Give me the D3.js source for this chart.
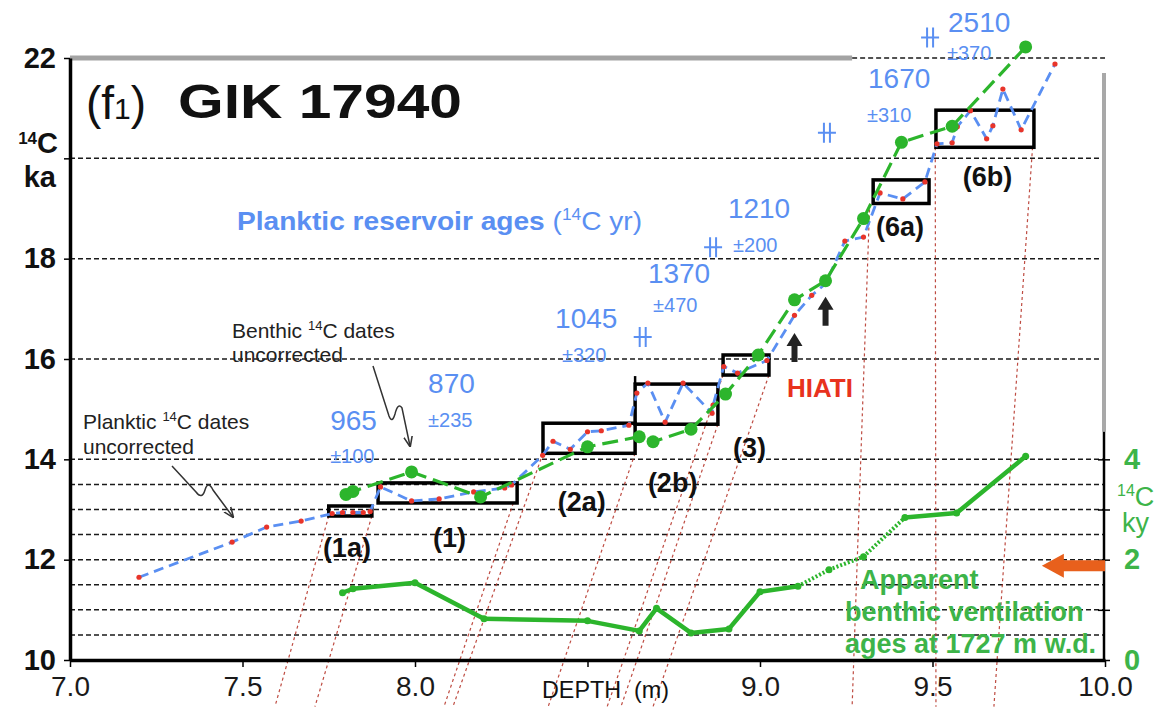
<!DOCTYPE html>
<html><head><meta charset="utf-8">
<script src="https://cdn.jsdelivr.net/npm/d3@7"></script>
<style>
body{margin:0;background:#fff}
svg{display:block}
text{font-family:"Liberation Sans",Arial,Helvetica,sans-serif}
</style>
</head><body>
<svg id="c" width="1160" height="707"></svg>
<script>
// ---------------- DATA ----------------
// Planktic 14C dates (uncorrected): depth (m), age (14C ka)
const plankticDepth = [7.20,7.47,7.57,7.67,7.76,7.79,7.82,7.85,7.87,
  7.90,7.99,8.07,8.17,8.26,8.28,
  8.37,8.40,8.45,8.50,8.54,8.62,
  8.643,8.675,8.725,8.777,8.861,8.864,
  8.895,8.935,9.02,
  9.10,9.15,9.19,9.246,9.30,
  9.348,9.414,9.478,
  9.513,9.557,9.572,9.61,9.657,9.675,9.704,9.757,9.855];
const plankticAge = [11.65,12.35,12.65,12.77,12.92,12.94,12.94,12.94,12.96,
  13.45,13.17,13.21,13.35,13.43,13.49,
  14.08,14.36,14.20,14.55,14.57,14.68,
  15.32,15.52,14.74,15.52,14.92,15.08,
  15.85,15.72,15.97,
  16.87,17.27,17.50,18.35,18.43,
  19.31,19.19,19.53,
  20.29,20.31,20.63,20.95,20.39,20.65,21.38,20.57,21.88];

// Benthic 14C dates (uncorrected)
const benthicDepth = [7.80,7.82,7.99,8.19,8.50,8.65,8.69,8.80,8.90,8.995,9.10,9.19,9.30,9.41,9.557,9.77];
const benthicAge   = [13.30,13.36,13.75,13.25,14.25,14.45,14.35,14.60,15.30,16.08,17.18,17.56,18.80,20.32,20.64,22.22];

// Apparent benthic ventilation ages (14C ky)
const ventDepth = [7.79,7.82,8.00,8.20,8.50,8.65,8.70,8.80,8.91,9.00,9.11,9.20,9.30,9.42,9.57,9.77];
const ventAge   = [1.34,1.42,1.54,0.82,0.78,0.58,1.03,0.54,0.62,1.36,1.47,1.80,2.06,2.84,2.93,4.06];
const ventDotted = [false,false,false,false,false,false,false,false,false,false,true,true,true,false,false]; // segment i -> i+1

// Planktic reservoir ages (14C yr)
const resAge   = ["965","870","1045","1370","1210","1670","2510"];
const resErr   = ["±100","±235","±320","±470","±200","±310","±370"];
const resMarkDepth = [8.66,8.864,9.194,9.493];
const resMarkAge   = [16.44,18.23,20.51,22.41];

// Boxes (tie-point intervals)
const boxLabels = ["(1a)","(1)","(2a)","(2b)","(3)","(6a)","(6b)"];
const boxDepth  = [[7.75,7.875],[7.893,8.296],[8.371,8.638],[8.638,8.878],[8.893,9.026],[9.328,9.49],[9.51,9.794]];
const boxAge    = [[12.87,13.07],[13.13,13.53],[14.12,14.72],[14.70,15.50],[15.68,16.08],[19.10,19.57],[20.22,20.96]];

// Correlation lines (depth at box corner, age) -> depth at lower edge
const corrTopDepth = [7.75,7.875,8.285,8.371,8.638,8.878,8.893,9.026,9.318,9.508,9.790];
const corrTopAge   = [12.87,12.87,13.13,14.12,14.12,14.70,15.68,15.68,19.10,20.22,20.22];
const corrBotDepth = [7.594,7.710,8.084,8.110,8.386,8.597,8.557,8.690,9.267,9.510,9.678];

// Hiatus arrows
const hiatusDepth = [9.10,9.19];
const hiatusAge   = [16.52,17.24];

// Axis ticks
const xTicks = [7,7.5,8,8.5,9,9.5,10];
const yTicks = [10,12,14,16,18,20,22];
const yRTicks = [0,1,2,3,4];
const gridAges = [10.5,11,11.5,12,12.5,13,13.5,14,16,18,20,22];

// ---------------- CHART ----------------
const svg = d3.select("#c");
const x = d3.scaleLinear().domain([7,10]).range([70,1105]);
const y = d3.scaleLinear().domain([10,22]).range([660,58]);
const yR = d3.scaleLinear().domain([0,4]).range([y(10), y(14)]);

const BLUE = "#5a8ff2", RED = "#e8342a", GREEN = "#2cb52c", TGREEN = "#3db449", DRED = "#b8392e";

// gridlines
svg.append("g").selectAll("line").data(gridAges).join("line")
  .attr("x1", d => d === 22 ? x(9.267) : x(7)).attr("x2", x(10))
  .attr("y1", d => y(d)).attr("y2", d => y(d))
  .attr("stroke", "#1a1a1a").attr("stroke-width", 1.5).attr("stroke-dasharray", "5,3");

// top gray frame & right gray frame
svg.append("line").attr("x1", x(7)).attr("x2", x(9.267)).attr("y1", y(22)).attr("y2", y(22))
  .attr("stroke", "#a3a3a3").attr("stroke-width", 5);
svg.append("line").attr("x1", x(10)-1).attr("x2", x(10)-1).attr("y1", y(21.7)).attr("y2", y(14.55))
  .attr("stroke", "#a8a8a8").attr("stroke-width", 4);

// correlation lines
svg.append("g").selectAll("line").data(corrTopDepth).join("line")
  .attr("x1", (d) => x(d)).attr("y1", (d,i) => y(corrTopAge[i]))
  .attr("x2", (d,i) => x(corrBotDepth[i])).attr("y2", y(9.07))
  .attr("stroke", DRED).attr("stroke-width", 1.2).attr("stroke-dasharray", "3,3").attr("opacity", 0.9);

// boxes
svg.append("g").selectAll("rect").data(boxDepth).join("rect")
  .attr("x", d => x(d[0])).attr("width", d => x(d[1]) - x(d[0]))
  .attr("y", (d,i) => y(boxAge[i][1])).attr("height", (d,i) => y(boxAge[i][0]) - y(boxAge[i][1]))
  .attr("fill", "none").attr("stroke", "#000").attr("stroke-width", 3.5);
// small tick above (2b)
svg.append("line").attr("x1", x(boxDepth[3][0])).attr("x2", x(boxDepth[3][0]))
  .attr("y1", y(boxAge[3][1])).attr("y2", y(boxAge[3][1]) - 8).attr("stroke", "#000").attr("stroke-width", 2.5);

// axes
const fmt1 = d3.format(".1f");
const gx = svg.append("g").attr("transform", `translate(0,${y(10)})`)
  .call(d3.axisBottom(x).tickValues(xTicks).tickFormat(d => d === 8.5 ? "" : fmt1(d)).tickSize(7).tickSizeOuter(0).tickPadding(9));
gx.select(".domain").attr("stroke", "#000").attr("stroke-width", 3.5);
gx.selectAll(".tick line").attr("stroke-width", 1.5);
gx.selectAll(".tick text").attr("font-size", 28).attr("fill", "#1a1a1a").attr("font-family", "Liberation Sans, Arial");

const gy = svg.append("g").attr("transform", `translate(${x(7)},0)`)
  .call(d3.axisLeft(y).tickValues(yTicks).tickFormat(d => d === 20 ? "" : d).tickSize(6).tickSizeOuter(0).tickPadding(8));
gy.select(".domain").attr("stroke", "#000").attr("stroke-width", 3.5);
gy.selectAll(".tick line").attr("stroke-width", 1.5);
gy.selectAll(".tick text").attr("font-size", 29).attr("font-weight", "bold").attr("fill", "#111").attr("font-family", "Liberation Sans, Arial");

const gyr = svg.append("g").attr("transform", `translate(${x(10)-1},0)`)
  .call(d3.axisRight(yR).tickValues(yRTicks).tickFormat(d => d % 2 === 0 ? d : "").tickSize(6).tickSizeOuter(0).tickPadding(14));
gyr.select(".domain").attr("d", `M0,${yR(4.55)}V${yR(0)}`).attr("stroke", "#000").attr("stroke-width", 2.5);
gyr.selectAll(".tick line").attr("x1", -6).attr("stroke-width", 1.5);
gyr.selectAll(".tick text").attr("font-size", 29).attr("font-weight", "bold").attr("fill", TGREEN).attr("font-family", "Liberation Sans, Arial");

// axis labels
svg.append("text").attr("x", 542).attr("y", 698).attr("font-size", 24).attr("fill", "#111")
  .attr("textLength", 127).attr("lengthAdjust", "spacingAndGlyphs").text("DEPTH\u00a0\u00a0(m)");
const lk = svg.append("text").attr("x", 58).attr("y", 153).attr("font-size", 29).attr("font-weight", "bold").attr("text-anchor", "end").attr("fill", "#111");
lk.append("tspan").attr("font-size", 17).attr("dy", -9).text("14");
lk.append("tspan").attr("dy", 9).text("C");
svg.append("text").attr("x", 56).attr("y", 187).attr("font-size", 29).attr("font-weight", "bold").attr("text-anchor", "end").attr("fill", "#111").text("ka");
const rk = svg.append("text").attr("x", 1117).attr("y", 506).attr("font-size", 27).attr("fill", TGREEN);
rk.append("tspan").attr("font-size", 16).attr("dy", -10).text("14");
rk.append("tspan").attr("dy", 10).text("C");
svg.append("text").attr("x", 1122).attr("y", 532).attr("font-size", 27).attr("fill", TGREEN).text("ky");

// title
const tt = svg.append("text").attr("x", 86).attr("y", 119).attr("font-size", 46).attr("fill", "#111");
tt.append("tspan").text("(f");
tt.append("tspan").attr("font-size", 30).text("1");
tt.append("tspan").text(")");
svg.append("text").attr("x", 178).attr("y", 118).attr("font-size", 49).attr("font-weight", "bold").attr("fill", "#111")
  .attr("textLength", 284).attr("lengthAdjust", "spacingAndGlyphs").text("GIK 17940");

// ventilation ages line
const vpts = ventDepth.map((d,i) => [x(d), yR(ventAge[i])]);
const vg = svg.append("g");
for (let i = 0; i < vpts.length - 1; i++) {
  vg.append("line").attr("x1", vpts[i][0]).attr("y1", vpts[i][1]).attr("x2", vpts[i+1][0]).attr("y2", vpts[i+1][1])
    .attr("stroke", GREEN).attr("stroke-width", ventDotted[i] ? 4 : 4.5).attr("stroke-linecap", ventDotted[i] ? "butt" : "round")
    .attr("stroke-dasharray", ventDotted[i] ? "2,2" : null);
}
vg.selectAll("circle").data(vpts).join("circle").attr("cx", d => d[0]).attr("cy", d => d[1]).attr("r", 3.5).attr("fill", GREEN);

// planktic line
const line = d3.line().x(d => x(d[0])).y(d => y(d[1]));
const ppts = plankticDepth.map((d,i) => [d, plankticAge[i]]);
svg.append("path").attr("d", line(ppts)).attr("fill", "none").attr("stroke", BLUE).attr("stroke-width", 2.8).attr("stroke-dasharray", "10,6");
svg.append("g").selectAll("circle").data(ppts).join("circle")
  .attr("cx", d => x(d[0])).attr("cy", d => y(d[1])).attr("r", 2.6).attr("fill", RED);

// benthic line
const bpts = benthicDepth.map((d,i) => [d, benthicAge[i]]);
svg.append("path").attr("d", line(bpts)).attr("fill", "none").attr("stroke", GREEN).attr("stroke-width", 3.2).attr("stroke-dasharray", "16,7");
svg.append("g").selectAll("circle").data(bpts).join("circle")
  .attr("cx", d => x(d[0])).attr("cy", d => y(d[1])).attr("r", 6.5).attr("fill", GREEN);

// reservoir-age markers
svg.append("g").selectAll("path").data(resMarkDepth).join("path")
  .attr("d", (d,i) => { const cx = x(d), cy = y(resMarkAge[i]);
    return `M${cx-3},${cy-10}V${cy+10}M${cx+3},${cy-10}V${cy+10}M${cx-9},${cy}H${cx+9}`; })
  .attr("stroke", BLUE).attr("stroke-width", 2).attr("fill", "none");

// reservoir-age labels
const resPosAge = [[7.754,14.58],[8.038,15.32],[8.406,16.62],[8.675,17.51],[8.907,18.81],[9.313,21.40],[9.545,22.52]];
const resPosErr = [[7.754,13.93],[8.038,14.64],[8.426,15.94],[8.690,16.94],[8.922,18.13],[9.310,20.72],[9.542,21.96]];
svg.append("g").selectAll("text").data(resAge).join("text")
  .attr("x", (d,i) => x(resPosAge[i][0])).attr("y", (d,i) => y(resPosAge[i][1]))
  .attr("font-size", 28).attr("fill", BLUE).text(d => d);
svg.append("g").selectAll("text").data(resErr).join("text")
  .attr("x", (d,i) => x(resPosErr[i][0])).attr("y", (d,i) => y(resPosErr[i][1]))
  .attr("font-size", 20).attr("fill", BLUE).text(d => d);

// Planktic reservoir ages title
const pr = svg.append("text").attr("x", 237).attr("y", 230).attr("font-size", 26).attr("fill", BLUE)
  .attr("textLength", 405).attr("lengthAdjust", "spacingAndGlyphs");
pr.append("tspan").attr("font-weight", "bold").text("Planktic reservoir ages ");
pr.append("tspan").text("(");
pr.append("tspan").attr("font-size", 16).attr("dy", -10).text("14");
pr.append("tspan").attr("dy", 10).text("C yr)");

// box labels
const boxLabPos = [[7.733,12.05],[8.052,12.25],[8.414,12.97],[8.675,13.35],[8.922,14.05],[9.336,18.45],[9.588,19.45]];
svg.append("g").selectAll("text").data(boxLabels).join("text")
  .attr("x", (d,i) => x(boxLabPos[i][0])).attr("y", (d,i) => y(boxLabPos[i][1]))
  .attr("font-size", 27).attr("font-weight", "bold").attr("fill", "#111").text(d => d);

// HIATI
svg.append("text").attr("x", 787).attr("y", 397).attr("font-size", 26).attr("font-weight", "bold").attr("fill", "#e8321e").text("HIATI");

// hiatus arrows
svg.append("g").selectAll("path").data(hiatusDepth).join("path")
  .attr("d", (d,i) => { const cx = x(d), ty = y(hiatusAge[i]);
    return `M${cx},${ty}L${cx+8},${ty+13}L${cx+3},${ty+13}L${cx+3},${ty+29}L${cx-3},${ty+29}L${cx-3},${ty+13}L${cx-8},${ty+13}Z`; })
  .attr("fill", "#222");

// orange arrow at right axis
{
  const ty = yR(1.88), tx = x(9.817);
  svg.append("path").attr("d", `M${tx},${ty}L${tx+22},${ty-12}L${tx+22},${ty-5.5}L${x(10)},${ty-5.5}L${x(10)},${ty+5.5}L${tx+22},${ty+5.5}L${tx+22},${ty+12}Z`)
    .attr("fill", "#e8601c");
}

// annotation texts
const txt = (xx, yy, parts, size, color, weight) => {
  const t = svg.append("text").attr("x", xx).attr("y", yy).attr("font-size", size).attr("fill", color).attr("font-weight", weight || "normal");
  parts.forEach(p => { const s = t.append("tspan").text(p.t); if (p.sup) s.attr("font-size", size*0.62).attr("dy", -size*0.38); if (p.back) s.attr("dy", size*0.38); });
  return t;
};
txt(232, 338, [{t:"Benthic "},{t:"14",sup:true},{t:"C dates",back:true}], 21, "#222");
txt(232, 362, [{t:"uncorrected"}], 21, "#222");
txt(83, 429, [{t:"Planktic "},{t:"14",sup:true},{t:"C dates",back:true}], 21, "#222");
txt(83, 454, [{t:"uncorrected"}], 21, "#222");

// squiggle arrows
svg.append("defs").append("marker").attr("id", "ah").attr("viewBox", "0 0 10 10").attr("refX", 9).attr("refY", 5)
  .attr("markerWidth", 7).attr("markerHeight", 7).attr("orient", "auto")
  .append("path").attr("d", "M0,1L10,5L0,9").attr("fill", "none").attr("stroke", "#333").attr("stroke-width", 1.5);
svg.append("path").attr("d", "M373,366 L389,416 Q392,424 395,414 Q398,402 402,408 L410,446")
  .attr("fill", "none").attr("stroke", "#333").attr("stroke-width", 1.5).attr("marker-end", "url(#ah)");
svg.append("path").attr("d", "M172,466 L196,492 Q202,500 205,490 Q208,480 213,490 L233,517")
  .attr("fill", "none").attr("stroke", "#333").attr("stroke-width", 1.5).attr("marker-end", "url(#ah)");

// Apparent benthic ventilation text
const ag = svg.append("g").attr("font-size", 27).attr("font-weight", "bold").attr("fill", TGREEN);
ag.append("text").attr("x", 860).attr("y", 589).text("Apparent");
ag.append("text").attr("x", 845).attr("y", 621).text("benthic ventilation");
ag.append("text").attr("x", 845).attr("y", 653).text("ages at 1727 m w.d.");
</script>
</body></html>
